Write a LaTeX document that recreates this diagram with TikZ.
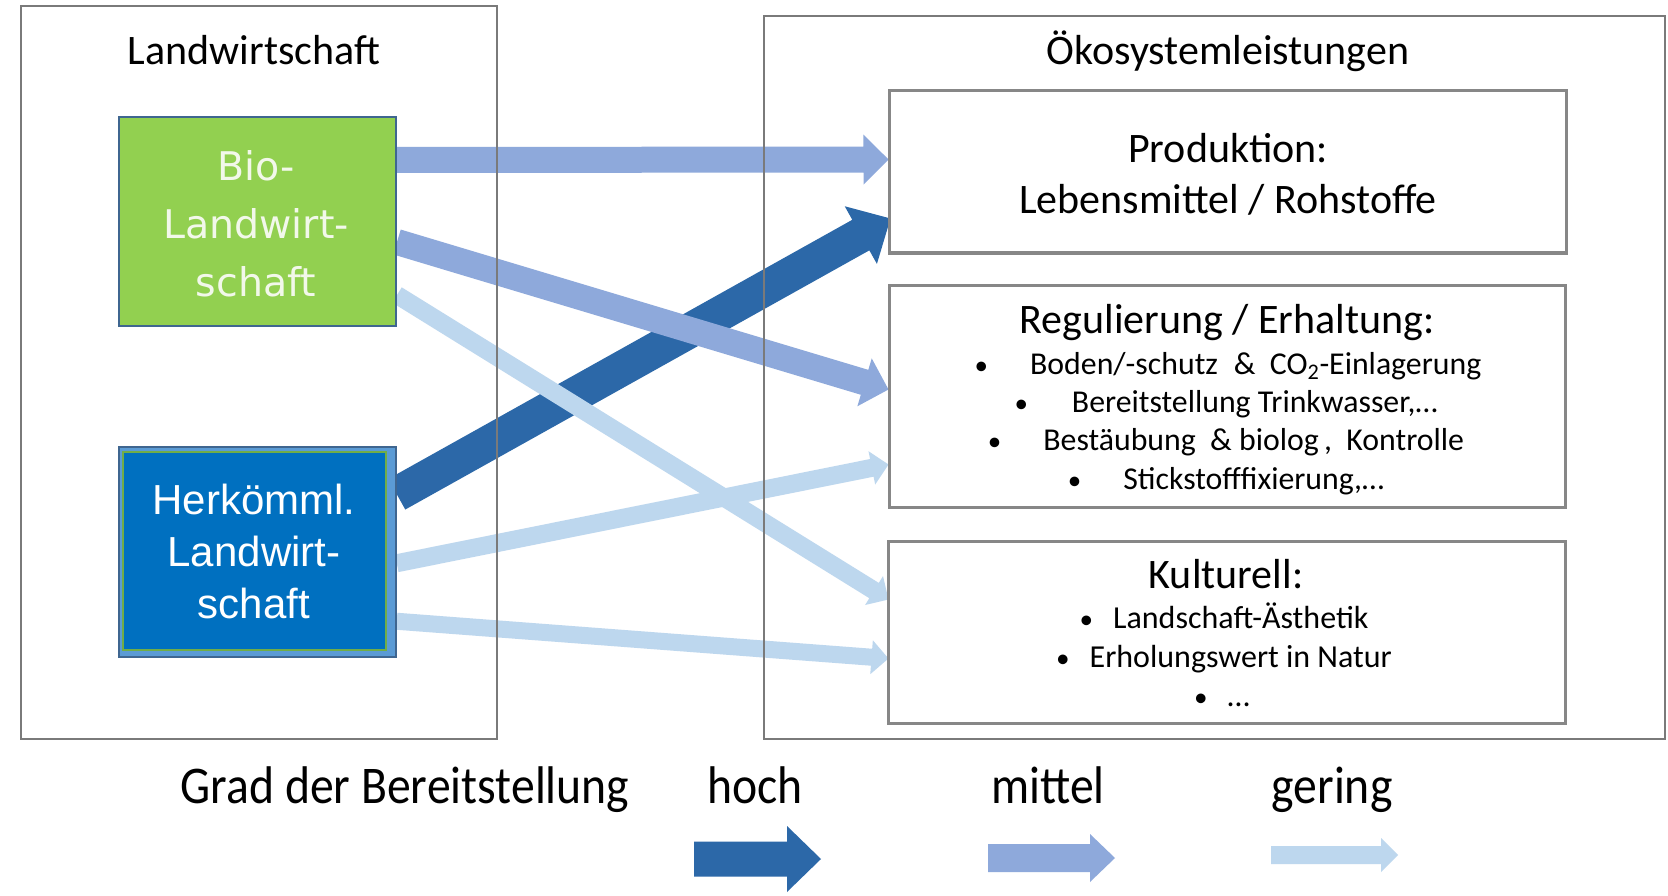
\documentclass[tikz,border=0pt]{standalone}
\usepackage{fontspec}
\setmainfont{Carlito}
\newfontfamily\biofont{DejaVu Sans}
\newfontfamily\herkfont{Liberation Sans}
\usetikzlibrary{calc}
\definecolor{hochblue}{HTML}{2C68A8}
\definecolor{mittelblue}{HTML}{8EA9DB}
\definecolor{geringblue}{HTML}{BDD7EE}
\definecolor{boxgray}{HTML}{7A7A7A}
\definecolor{biogreen}{HTML}{92D050}
\definecolor{bioborder}{HTML}{3F6690}
\definecolor{herkouter}{HTML}{5B9BD5}
\definecolor{herkinner}{HTML}{0070C0}
\definecolor{herkline}{HTML}{70AD47}
\definecolor{biotext}{HTML}{F2F8EA}
\pgfdeclarelayer{bg}
\pgfdeclarelayer{arrows}
\pgfsetlayers{bg,arrows,main}
\tikzset{
  outerbox/.style={draw=boxgray, line width=2.5pt, inner sep=0pt},
  innerbox/.style={draw=boxgray!90, line width=3pt, inner sep=0pt},
  biobox/.style={draw=bioborder, line width=2pt, fill=biogreen, inner sep=0pt},
  herkbox/.style={draw=bioborder, line width=1.5pt, fill=herkouter, inner sep=0pt},
  herkin/.style={draw=herkline, line width=1.5pt, fill=herkinner, inner sep=0pt},
  title/.style={anchor=base, inner sep=0pt, font=\fontsize{42}{50}\selectfont},
  biot/.style={anchor=base, inner sep=0pt, text=biotext, font=\biofont\fontsize{39.5}{46}\selectfont},
  herkt/.style={anchor=base, inner sep=0pt, text=white, font=\herkfont\fontsize{42}{48}\selectfont},
  regt/.style={anchor=base, inner sep=0pt, font=\fontsize{31.8}{37}\selectfont},
  kultt/.style={anchor=base, inner sep=0pt, font=\fontsize{32}{38}\selectfont},
  legt/.style={anchor=base, inner sep=0pt, font=\fontsize{53}{60}\selectfont},
  hochc/.style={fill=hochblue},
  mittelc/.style={fill=mittelblue},
  geringc/.style={fill=geringblue}
}
% from, to, half thickness, half head width, head length, style
\newcommand\blkarrow[6]{%
  \coordinate (tmpH) at ($(#2)!#5!(#1)$);
  \path[#6] ($(#1)!#3!90:(#2)$) -- ($(tmpH)!#3!90:(#2)$) -- ($(tmpH)!#4!90:(#2)$)
     -- (#2) -- ($(tmpH)!#4!-90:(#2)$) -- ($(tmpH)!#3!-90:(#2)$) -- ($(#1)!#3!-90:(#2)$) -- cycle;
}
\newcommand\bul{\scalebox{0.85}{\textbullet}}
\begin{document}
\begin{tikzpicture}[x=1pt,y=-1pt]
\useasboundingbox (0,0) rectangle (1668,896);
\begin{pgfonlayer}{bg}
\fill[white] (0,0) rectangle (1668,896);
\end{pgfonlayer}

% outer frames
\node[outerbox, minimum width=476pt, minimum height=733pt] (lw) at (259,372.5) {};
\node[outerbox, minimum width=901pt, minimum height=723pt] (oko) at (1214.5,377.5) {};
\node[title] (lwT) at (254,65) {Landwirtschaft};
\node[title] (okoT) at (1228,65) {Ökosystemleistungen};

% left boxes
\node[biobox, minimum width=277pt, minimum height=209pt] (bio) at (257.5,221.5) {};
\node[biot] (bioT1) at (256,181) {Bio-};
\node[biot] (bioT2) at (256,239) {Landwirt-};
\node[biot] (bioT3) at (256,296) {schaft};

\node[herkbox, minimum width=277pt, minimum height=210pt] (herk) at (257.5,552) {};
\node[herkin, minimum width=263pt, minimum height=198pt] (herkI) at (254.5,551) {};
\node[herkt] (herkT1) at (254,514) {Herkömml.};
\node[herkt] (herkT2) at (254,566) {Landwirt-};
\node[herkt] (herkT3) at (254,618) {schaft};

% right boxes
\node[innerbox, minimum width=677pt, minimum height=162pt] (prod) at (1227.5,172) {};
\node[title] (prodT1) at (1228,163) {Produktion:};
\node[title] (prodT2) at (1228,214) {Lebensmittel / Rohstoffe};

\node[innerbox, minimum width=676pt, minimum height=222pt] (reg) at (1227,396) {};
\node[title] (regT) at (1227,333) {Regulierung / Erhaltung:};
\node[regt] (reg1) at (1228,374) {\bul\hspace{42pt}Boden/-schutz\enspace\&\ \ CO\textsubscript{2}-Einlagerung};
\node[regt] (reg2) at (1226,412) {\bul\hspace{44pt}Bereitstellung Trinkwasser,…};
\node[regt] (reg3) at (1226,450) {\bul\hspace{42pt}Bestäubung\ \ \& biolog\,,\ \ Kontrolle};
\node[regt] (reg4) at (1226,489) {\bul\hspace{42pt}Stickstofffixierung,…};

\node[innerbox, minimum width=677pt, minimum height=182pt] (kult) at (1226.5,632) {};
\node[title] (kultT) at (1226,588) {Kulturell:};
\node[kultt] (kult1) at (1224,628) {\bul\hspace{20pt}Landschaft-Ästhetik};
\node[kultt] (kult2) at (1224,667) {\bul\hspace{20pt}Erholungswert in Natur};
\node[kultt] (kult3) at (1222,706) {\bul\hspace{20pt}…};

% arrow end points
\coordinate (s1) at ($(bio.north east)+(0,44)$);
\coordinate (e1) at ($(prod.north west)+(1,70)$);
\coordinate (s2) at ($(bio.north east)+(0,126)$);
\coordinate (e2) at ($(reg.north west)+(1,106)$);
\coordinate (s3) at ($(bio.north east)+(0,179)$);
\coordinate (e3) at ($(kult.north west)+(2,60)$);
\coordinate (s4) at ($(herk.north east)+(0,48)$);
\coordinate (e4) at ($(prod.north west)+(3,129)$);
\coordinate (s5) at ($(herk.north east)+(0,117)$);
\coordinate (e5) at ($(reg.north west)+(1,181)$);
\coordinate (s6) at ($(herk.north east)+(0,175)$);
\coordinate (e6) at ($(kult.north west)+(2,119)$);

\begin{pgfonlayer}{arrows}
\blkarrow{s4}{e4}{17.5pt}{33pt}{34pt}{hochc}
\blkarrow{s1}{e1}{13pt}{25pt}{25pt}{mittelc}
\blkarrow{s2}{e2}{13pt}{25pt}{25pt}{mittelc}
\blkarrow{s3}{e3}{9pt}{17pt}{17pt}{geringc}
\blkarrow{s5}{e5}{9pt}{17pt}{17pt}{geringc}
\blkarrow{s6}{e6}{8.5pt}{17pt}{17pt}{geringc}
\end{pgfonlayer}

% legend
\node[legt] (grad) at (405,803) {\scalebox{0.9}[1]{Grad der Bereitstellung}};
\node[legt] (hoch) at (755,803) {\scalebox{0.9}[1]{hoch}};
\node[legt] (mittel) at (1048,803) {\scalebox{0.9}[1]{mittel}};
\node[legt] (gering) at (1332,803) {\scalebox{0.9}[1]{gering}};
\coordinate (lh1) at (694,859);
\coordinate (lh2) at (821,859);
\coordinate (lm1) at (988,858);
\coordinate (lm2) at (1115,858);
\coordinate (lg1) at (1271,855);
\coordinate (lg2) at (1398,855);
\blkarrow{lh1}{lh2}{17.5pt}{33pt}{34pt}{hochc}
\blkarrow{lm1}{lm2}{14pt}{24pt}{25pt}{mittelc}
\blkarrow{lg1}{lg2}{9pt}{17pt}{17pt}{geringc}
\end{tikzpicture}
\end{document}
